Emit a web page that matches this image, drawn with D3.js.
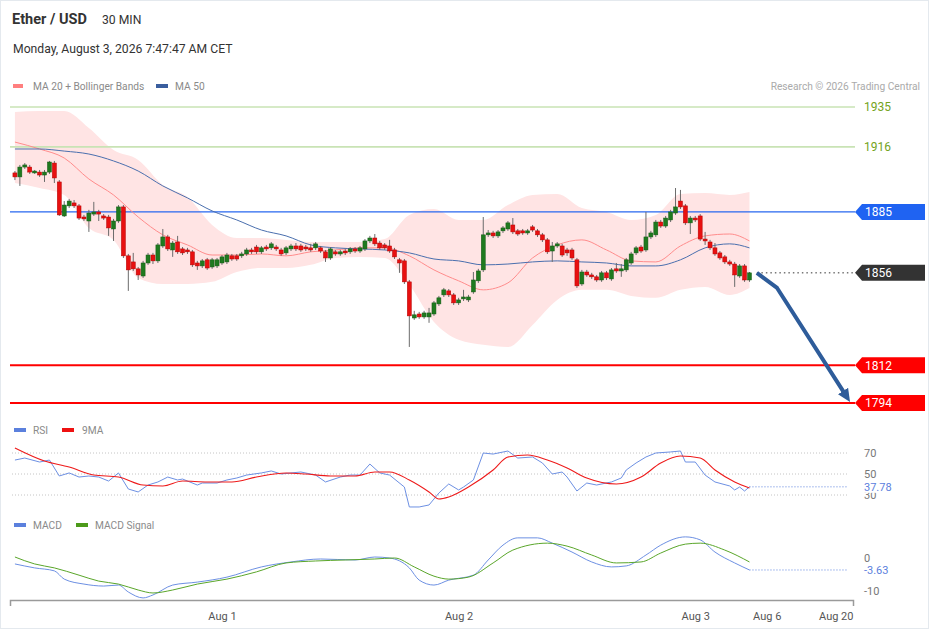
<!DOCTYPE html>
<html>
<head>
<meta charset="utf-8">
<script src="https://cdn.jsdelivr.net/npm/d3@7"></script>
<style>
  body { margin: 0; background: #fff; font-family: Roboto, "Liberation Sans", Arial, sans-serif; }
</style>
</head>
<body>
<svg id="chart" width="929" height="629" viewBox="0 0 929 629"></svg>
<script>
// ---- candles (30 min, Jul 31 03:00 -> Aug 3 05:30) ----
const opens = [
  1903.6,1901.7,1906.4,1906.4,1903.6,1904.0,1902.6,1904.0,1908.3,1899.3,
  1883.1,1887.9,1889.3,1887.9,1882.6,1880.7,1884.0,1885.0,1883.1,1882.6,
  1876.9,1880.7,1887.4,1864.1,1861.2,1857.9,1854.5,1860.7,1864.5,1861.7,
  1868.8,1873.1,1866.9,1870.7,1867.4,1866.9,1866.0,1860.7,1859.3,1862.2,
  1858.8,1859.3,1860.7,1861.2,1864.1,1864.1,1864.1,1865.0,1866.9,1868.3,
  1866.0,1868.3,1867.9,1868.3,1866.9,1865.5,1867.4,1868.8,1868.8,1868.3,
  1867.9,1867.9,1867.9,1866.0,1863.1,1866.0,1865.0,1866.4,1866.0,1867.4,
  1866.4,1867.4,1871.2,1872.6,1870.2,1869.3,1868.8,1866.9,1862.2,1861.7,
  1851.7,1834.5,1836.4,1835.0,1835.0,1836.4,1841.2,1845.5,1847.4,1845.5,
  1841.7,1843.6,1843.1,1846.9,1852.2,1857.4,1874.1,1875.0,1873.6,1876.0,
  1876.9,1878.8,1876.0,1876.0,1875.0,1877.9,1876.0,1874.1,1871.7,1866.4,
  1868.8,1868.8,1866.9,1866.9,1862.2,1850.7,1856.4,1855.0,1854.1,1852.6,
  1856.0,1853.1,1857.9,1856.9,1857.4,1860.7,1865.5,1868.3,1866.9,1873.1,
  1874.1,1880.2,1878.3,1881.2,1884.5,1890.2,1887.9,1879.8,1882.1,1883.1,
  1872.1,1870.7,1867.9,1865.5,1863.6,1861.2,1860.2,1854.5,1859.3,1852.6
];
const highs = [
  1904.5,1907.4,1908.3,1907.4,1905.0,1905.0,1905.0,1909.3,1909.3,1900.2,
  1890.2,1891.2,1890.7,1888.8,1883.6,1886.0,1889.8,1886.0,1884.0,1883.6,
  1881.7,1888.3,1888.3,1865.0,1865.5,1858.8,1861.7,1865.5,1865.5,1870.2,
  1876.9,1874.1,1871.2,1873.6,1868.3,1867.9,1866.9,1861.7,1862.6,1863.1,
  1863.1,1863.1,1864.5,1865.5,1865.0,1865.0,1866.0,1867.9,1867.9,1869.3,
  1868.8,1869.3,1870.7,1869.3,1867.9,1868.8,1869.8,1870.2,1869.8,1869.3,
  1869.8,1870.7,1868.8,1866.9,1868.3,1866.9,1866.9,1867.4,1868.3,1868.3,
  1868.8,1872.1,1873.6,1874.5,1871.2,1870.2,1871.7,1867.9,1863.1,1862.6,
  1852.6,1837.9,1837.4,1837.9,1839.3,1842.6,1845.0,1848.8,1848.3,1846.4,
  1844.1,1847.9,1845.5,1856.4,1857.9,1882.6,1876.4,1876.0,1876.4,1878.3,
  1880.7,1882.1,1876.9,1876.9,1876.9,1878.8,1876.9,1875.0,1872.6,1870.7,
  1870.7,1869.8,1867.9,1867.9,1863.1,1857.4,1857.4,1856.0,1855.0,1856.9,
  1856.9,1858.3,1860.7,1860.2,1863.1,1866.0,1868.8,1869.3,1885.0,1876.0,
  1881.2,1881.2,1883.1,1886.0,1896.4,1895.5,1888.8,1883.1,1883.1,1884.0,
  1875.5,1871.7,1870.2,1866.4,1864.5,1862.2,1861.2,1860.2,1860.2,1856.4
];
const lows = [
  1900.2,1897.4,1905.5,1903.1,1903.1,1901.7,1899.3,1903.1,1898.8,1883.1,
  1882.6,1886.9,1886.9,1881.2,1880.7,1875.5,1883.1,1880.7,1881.2,1873.6,
  1871.2,1879.8,1863.1,1847.4,1856.9,1852.6,1853.6,1859.8,1860.2,1860.7,
  1867.9,1866.4,1863.6,1865.0,1864.5,1865.0,1858.8,1857.4,1858.3,1857.4,
  1857.9,1858.3,1859.8,1860.2,1861.7,1861.7,1863.1,1864.1,1865.0,1865.0,
  1865.0,1866.4,1866.9,1866.4,1864.1,1864.5,1866.4,1866.4,1866.0,1866.4,
  1866.0,1866.9,1865.5,1861.2,1862.2,1864.1,1864.1,1864.5,1865.0,1865.5,
  1865.5,1866.4,1870.2,1868.8,1866.9,1866.9,1865.5,1862.6,1856.0,1850.7,
  1820.7,1833.6,1834.1,1834.1,1832.2,1835.5,1840.2,1844.5,1844.5,1840.7,
  1840.7,1842.6,1842.1,1846.0,1851.2,1856.4,1873.1,1872.6,1872.6,1875.0,
  1876.0,1874.5,1873.6,1874.1,1874.1,1875.5,1873.1,1870.7,1865.0,1861.2,
  1867.9,1863.6,1864.1,1862.2,1848.8,1849.8,1854.1,1853.1,1851.7,1851.7,
  1852.6,1852.2,1856.0,1854.1,1856.4,1859.8,1864.5,1865.5,1866.0,1872.1,
  1873.1,1877.4,1877.4,1880.2,1883.6,1886.4,1878.8,1874.5,1880.2,1871.2,
  1869.3,1866.9,1864.1,1862.2,1860.2,1859.3,1849.3,1853.6,1851.7,1851.7
];
const closes = [
  1901.7,1906.4,1907.4,1904.0,1904.5,1902.6,1904.0,1908.8,1901.2,1883.6,
  1888.3,1890.2,1887.9,1882.1,1881.7,1884.5,1885.0,1884.0,1882.1,1877.4,
  1880.7,1887.4,1864.1,1857.4,1857.9,1855.0,1860.7,1864.5,1861.7,1869.3,
  1873.1,1867.4,1870.2,1866.0,1865.5,1866.0,1859.8,1859.3,1861.7,1858.3,
  1862.2,1862.2,1863.6,1864.5,1862.6,1862.6,1865.0,1866.9,1866.0,1866.0,
  1867.9,1867.4,1869.8,1867.4,1865.0,1867.9,1868.8,1867.4,1866.9,1867.4,
  1866.9,1869.8,1866.4,1863.1,1867.4,1865.0,1866.0,1865.5,1867.4,1866.4,
  1867.9,1871.2,1872.6,1869.8,1867.9,1867.9,1866.4,1863.6,1860.7,1851.7,
  1835.5,1836.0,1835.0,1836.9,1836.9,1841.7,1844.1,1847.9,1845.5,1841.7,
  1843.1,1844.5,1844.5,1852.6,1856.9,1874.1,1875.0,1873.6,1875.5,1877.4,
  1879.8,1875.5,1874.5,1875.0,1876.0,1876.4,1874.1,1871.7,1866.0,1868.8,
  1869.8,1864.5,1865.5,1863.1,1849.8,1856.4,1855.0,1854.1,1852.6,1856.0,
  1853.6,1857.4,1856.9,1857.9,1862.2,1865.0,1867.9,1866.4,1873.1,1875.0,
  1880.2,1878.3,1882.1,1885.0,1887.4,1887.4,1879.8,1882.1,1881.2,1872.1,
  1871.2,1867.9,1865.0,1863.1,1861.2,1860.2,1855.0,1859.3,1852.6,1856.0
];

// ---- moving averages / bollinger bands (read every 5 candles) ----
const maIdx = [0,5,10,15,20,25,30,35,40,45,50,55,60,65,70,75,80,85,90,95,100,105,110,115,120,125,130,135,140,145,149];
const ma20 = [1918.3,1915.0,1910.7,1900.7,1893.1,1882.6,1874.1,1869.3,1864.5,1864.5,1865.0,1864.1,1866.0,1866.9,1867.9,1867.9,1864.1,1857.4,1852.2,1847.9,1851.2,1863.1,1869.3,1871.7,1866.9,1861.7,1861.2,1868.8,1873.6,1874.5,1871.2];
const ma50 = [1915.0,1915.0,1914.0,1912.6,1909.3,1904.5,1897.4,1891.7,1885.5,1881.2,1876.4,1873.6,1869.3,1867.9,1867.4,1866.9,1865.5,1862.6,1861.7,1859.8,1860.2,1861.2,1861.7,1861.2,1860.7,1859.3,1859.3,1862.2,1867.9,1869.8,1867.9];
const bbUpper = [1932.6,1933.1,1933.1,1925.0,1914.5,1909.8,1897.9,1892.1,1878.8,1872.6,1872.6,1871.7,1870.7,1870.7,1870.7,1872.1,1883.6,1886.4,1881.2,1881.2,1888.3,1893.1,1893.6,1886.9,1885.0,1881.2,1883.6,1893.6,1894.0,1893.1,1894.5];
const bbLower = [1898.8,1896.4,1893.1,1877.4,1871.7,1853.6,1850.7,1850.7,1851.7,1856.4,1858.3,1858.3,1859.8,1863.1,1863.6,1863.1,1850.3,1832.6,1824.1,1821.7,1820.7,1831.2,1843.1,1847.9,1847.9,1845.0,1844.1,1847.9,1849.3,1845.5,1848.8];

// ---- key levels ----
const levelPrices = [1935, 1916, 1885, 1856, 1812, 1794];
const levelKinds = ["res", "res", "pivot", "last", "sup", "sup"];

// ---- projected path ----
const projIdx = [150.5, 154.6, 169.4];
const projPrice = [1856, 1848.8, 1794.5];

// ---- RSI ----
const rsiIdx = [0,2,5,7,9,11,13,15,17,19,21,23,25,27,29,31,33,34,37,38,41,43,45,47,50,52,54,56,58,61,63,66,68,70,72,74,76,79,80,82,84,86,88,90,91,93,95,97,100,102,105,107,109,111,112,114,116,118,121,123,124,126,128,130,133,135,136,138,140,142,145,146,147,148,149];
const rsiVal = [63.3,65.2,61.4,63.3,48.1,51.0,47.1,48.1,47.1,43.3,51.0,35.7,32.9,39.5,42.4,47.1,44.3,45.2,39.5,41.4,41.4,44.3,46.2,49.0,51.0,52.9,50.0,51.0,51.9,49.0,42.4,47.1,49.0,49.0,59.5,51.0,49.0,37.6,18.6,18.6,20.5,31.9,40.5,34.8,37.6,44.3,70.0,69.0,71.9,65.2,66.2,60.5,50.0,51.9,47.1,33.8,41.4,39.5,42.4,46.2,53.8,60.5,66.2,70.0,71.0,71.9,61.4,61.4,49.0,42.4,38.6,34.8,37.6,33.8,37.78];
const rsiMaIdx = [0,6,11,16,21,26,30,34,39,44,49,55,59,64,69,73,76,80,84,86,88,92,97,100,104,108,112,116,122,127,131,135,139,142,146,149];
const rsiMaVal = [74.8,62.4,56.7,49.0,47.1,39.5,38.6,43.3,42.4,42.4,47.1,51.0,50.0,48.1,48.1,51.9,51.9,44.3,32.9,26.2,28.1,37.6,53.8,66.2,68.1,63.3,55.7,46.2,40.5,47.1,60.5,67.1,65.2,53.8,42.4,36.7];
const rsiTicks = [70, 50, 30];

// ---- MACD ----
const macdIdx = [0,4,8,10,14,18,21,23,26,28,32,37,43,50,56,62,69,73,76,80,82,85,88,93,96,99,102,106,109,113,117,121,124,128,131,136,139,142,146,149];
const macdVal = [-1.8,-3.0,-3.9,-6.4,-7.9,-8.5,-8.2,-10.3,-12.1,-11.2,-8.2,-7.3,-5.8,-2.7,-1.2,-0.3,-0.6,0.3,0.0,-3.0,-6.7,-8.2,-6.7,-5.2,-0.6,3.9,6.1,6.1,4.5,1.8,-1.2,-2.7,-2.4,0.9,3.9,6.4,5.5,1.8,-1.5,-3.63];
const signalIdx = [0,4,8,13,17,21,25,28,32,37,43,49,55,61,67,73,77,81,85,88,92,97,101,108,112,117,122,127,131,136,139,144,149];
const signalVal = [0.3,-1.8,-3.0,-5.2,-7.0,-7.9,-9.7,-10.6,-9.7,-7.9,-6.4,-4.2,-1.5,-0.9,-0.6,-0.3,0.0,-2.7,-5.5,-6.4,-5.8,-1.5,2.4,4.5,3.6,0.9,-1.5,-1.2,1.5,4.2,4.5,2.4,-1.2];
const macdTicks = [0, -10];

// ---- time axis ----
const xTickIdx = [42, 90, 138, 152.5, 166.5];
const xTickLabels = ["Aug 1", "Aug 2", "Aug 3", "Aug 6", "Aug 20"];

const svg = d3.select("#chart");
const font = 'Roboto, "Liberation Sans", Arial, sans-serif';

svg.append("rect")
    .attr("x", 0.5).attr("y", 0.5).attr("width", 928).attr("height", 628)
    .attr("fill", "#fff").attr("stroke", "#e4e9ee");

// scales
const x = d3.scaleLinear().domain([-1, 170]).range([10, 853]);
const y = d3.scaleLinear().domain([1794, 1935]).range([403, 107]);
const yRsi = d3.scaleLinear().domain([30, 70]).range([495, 453]);
const yMacd = d3.scaleLinear().domain([-10, 0]).range([591, 558]);

// header
svg.append("text").attr("x", 12).attr("y", 24)
    .attr("font-family", font).attr("font-size", 14.5).attr("font-weight", "bold")
    .attr("fill", "#333").text("Ether / USD");
svg.append("text").attr("x", 102).attr("y", 24)
    .attr("font-family", font).attr("font-size", 12.2).attr("fill", "#333").text("30 MIN");
svg.append("text").attr("x", 13).attr("y", 52.5)
    .attr("font-family", font).attr("font-size", 12.2).attr("fill", "#333")
    .text("Monday, August 3, 2026 7:47:47 AM CET");

// legends
function legend(items, yy) {
    items.forEach(it => {
        svg.append("rect").attr("x", it.x).attr("y", yy - 2).attr("width", it.w).attr("height", 4)
            .attr("fill", it.color);
        svg.append("text").attr("x", it.tx).attr("y", yy + 4)
            .attr("font-family", font).attr("font-size", 10.2).attr("fill", "#8a8a8a").text(it.label);
    });
}
legend([
    { x: 13, w: 10, tx: 33, color: "#ff7f7f", label: "MA 20 + Bollinger Bands" },
    { x: 156, w: 12, tx: 175, color: "#3a5e9e", label: "MA 50" }
], 86);
svg.append("text").attr("x", 920).attr("y", 90).attr("text-anchor", "end")
    .attr("font-family", font).attr("font-size", 10.2).attr("fill", "#aaa")
    .text("Research \u00a9 2026 Trading Central");

// bollinger band
const bandArea = d3.area()
    .x((d, i) => x(maIdx[i]))
    .y0((d, i) => y(bbLower[i]))
    .y1((d, i) => y(bbUpper[i]))
    .curve(d3.curveMonotoneX);
svg.append("path").datum(maIdx).attr("d", bandArea).attr("fill", "#ffe4e4");

// level lines
const levelColor = { res: "#c9e3b5", pivot: "#2767ef", last: "#333", sup: "#ff0000" };
levelPrices.forEach((p, i) => {
    const k = levelKinds[i];
    const line = svg.append("line")
        .attr("x1", k === "last" ? x(150.5) : 10).attr("x2", 855)
        .attr("y1", y(p)).attr("y2", y(p))
        .attr("stroke", levelColor[k])
        .attr("stroke-width", k === "res" ? 1.6 : k === "sup" ? 2 : 1.2);
    if (k === "last") line.attr("stroke-dasharray", "1.5,3").attr("stroke-width", 1);
});

// moving averages
function maLine(vals) {
    return d3.line().x((d, i) => x(maIdx[i])).y((d, i) => y(vals[i])).curve(d3.curveMonotoneX);
}
svg.append("path").datum(maIdx).attr("d", maLine(ma20))
    .attr("fill", "none").attr("stroke", "#ff8c8c").attr("stroke-width", 1);
svg.append("path").datum(maIdx).attr("d", maLine(ma50))
    .attr("fill", "none").attr("stroke", "#4a6fae").attr("stroke-width", 1);

// candles
const idx = d3.range(closes.length);
const candles = svg.append("g").selectAll("g").data(idx).enter().append("g");
candles.append("line")
    .attr("x1", i => x(i)).attr("x2", i => x(i))
    .attr("y1", i => y(highs[i])).attr("y2", i => y(lows[i]))
    .attr("stroke", "#6b6b6b").attr("stroke-width", 1);
candles.append("rect")
    .attr("x", i => x(i) - 2).attr("width", 4)
    .attr("y", i => y(Math.max(opens[i], closes[i])))
    .attr("height", i => Math.max(1.2, Math.abs(y(opens[i]) - y(closes[i]))))
    .attr("fill", i => closes[i] >= opens[i] ? "#1f7a1f" : "#e81010")
    .attr("stroke", i => closes[i] >= opens[i] ? "#145a14" : "#b30000")
    .attr("stroke-width", 0.5);

// projection arrow
const pts = projIdx.map((d, i) => [x(d), y(projPrice[i])]);
const a = pts[pts.length - 2], b = pts[pts.length - 1];
const len = Math.hypot(b[0] - a[0], b[1] - a[1]);
const pull = 9;
pts[pts.length - 1] = [b[0] - (b[0] - a[0]) / len * pull, b[1] - (b[1] - a[1]) / len * pull];
svg.append("defs").append("marker")
    .attr("id", "head").attr("viewBox", "0 -6 13 12")
    .attr("refX", 4).attr("refY", 0)
    .attr("markerWidth", 13).attr("markerHeight", 12)
    .attr("markerUnits", "userSpaceOnUse").attr("orient", "auto")
    .append("path").attr("d", "M0,-6L13,0L0,6Z").attr("fill", "#2e5c9a");
svg.append("path").datum(pts).attr("d", d3.line())
    .attr("fill", "none").attr("stroke", "#2e5c9a").attr("stroke-width", 4)
    .attr("stroke-linejoin", "round").attr("marker-end", "url(#head)");

// level labels / tags
const tagFill = { pivot: "#1f63f2", last: "#333333", sup: "#ff0000" };
levelPrices.forEach((p, i) => {
    const k = levelKinds[i];
    const yy = y(p);
    if (k === "res") {
        svg.append("text").attr("x", 864).attr("y", yy + 4)
            .attr("font-family", font).attr("font-size", 12).attr("fill", "#74a31c").text(p);
    } else {
        svg.append("path")
            .attr("d", `M855,${yy}L862,${yy - 8}H925V${yy + 8}H862Z`)
            .attr("fill", tagFill[k]);
        svg.append("text").attr("x", 865).attr("y", yy + 4.3)
            .attr("font-family", font).attr("font-size", 12).attr("fill", "#fff").text(p);
    }
});

// ---- RSI panel ----
legend([
    { x: 14, w: 12, tx: 33, color: "#5b80dd", label: "RSI" },
    { x: 62, w: 12, tx: 82, color: "#ee1111", label: "9MA" }
], 430);
rsiTicks.forEach(t => {
    svg.append("line").attr("x1", 12).attr("x2", 848)
        .attr("y1", yRsi(t)).attr("y2", yRsi(t))
        .attr("stroke", "#c4c4c4").attr("stroke-dasharray", "1,2");
    svg.append("text").attr("x", 864).attr("y", yRsi(t) + 4)
        .attr("font-family", font).attr("font-size", 11).attr("fill", "#777").text(t);
});
svg.append("path").datum(rsiIdx)
    .attr("d", d3.line().x((d, i) => x(d)).y((d, i) => yRsi(rsiVal[i])))
    .attr("fill", "none").attr("stroke", "#6d90e3").attr("stroke-width", 1);
svg.append("path").datum(rsiMaIdx)
    .attr("d", d3.line().x((d, i) => x(d)).y((d, i) => yRsi(rsiMaVal[i])).curve(d3.curveMonotoneX))
    .attr("fill", "none").attr("stroke", "#ee1a1a").attr("stroke-width", 1.1);
const lastRsi = rsiVal[rsiVal.length - 1];
svg.append("line").attr("x1", x(rsiIdx[rsiIdx.length - 1])).attr("x2", 848)
    .attr("y1", yRsi(lastRsi)).attr("y2", yRsi(lastRsi))
    .attr("stroke", "#5b80dd").attr("stroke-dasharray", "1,2");
svg.append("rect").attr("x", 860).attr("y", yRsi(lastRsi) - 7).attr("width", 40).attr("height", 13)
    .attr("fill", "#fff");
svg.append("text").attr("x", 864).attr("y", yRsi(lastRsi) + 4)
    .attr("font-family", font).attr("font-size", 11).attr("fill", "#5b80dd").text(lastRsi.toFixed(2));

// ---- MACD panel ----
legend([
    { x: 14, w: 12, tx: 33, color: "#5b80dd", label: "MACD" },
    { x: 76, w: 12, tx: 95, color: "#4c9a1a", label: "MACD Signal" }
], 525);
macdTicks.forEach(t => {
    svg.append("text").attr("x", 864).attr("y", yMacd(t) + 4)
        .attr("font-family", font).attr("font-size", 11).attr("fill", "#777").text(t);
});
svg.append("path").datum(macdIdx)
    .attr("d", d3.line().x((d, i) => x(d)).y((d, i) => yMacd(macdVal[i])).curve(d3.curveMonotoneX))
    .attr("fill", "none").attr("stroke", "#6d90e3").attr("stroke-width", 1);
svg.append("path").datum(signalIdx)
    .attr("d", d3.line().x((d, i) => x(d)).y((d, i) => yMacd(signalVal[i])).curve(d3.curveMonotoneX))
    .attr("fill", "none").attr("stroke", "#5aa62a").attr("stroke-width", 1);
const lastMacd = macdVal[macdVal.length - 1];
svg.append("line").attr("x1", x(macdIdx[macdIdx.length - 1])).attr("x2", 848)
    .attr("y1", yMacd(lastMacd)).attr("y2", yMacd(lastMacd))
    .attr("stroke", "#5b80dd").attr("stroke-dasharray", "1,2");
svg.append("text").attr("x", 864).attr("y", yMacd(lastMacd) + 4)
    .attr("font-family", font).attr("font-size", 11).attr("fill", "#5b80dd").text(lastMacd.toFixed(2));

// ---- time axis ----
const xAxis = svg.append("g").attr("transform", "translate(0,600)")
    .call(d3.axisBottom(x)
        .tickValues(xTickIdx)
        .tickFormat((d, i) => xTickLabels[i])
        .tickSizeInner(0).tickSizeOuter(6).tickPadding(12));
xAxis.select(".domain").attr("stroke", "#9a9a9a").attr("stroke-width", 1.5);
xAxis.selectAll("text").attr("font-family", font).attr("font-size", 11).attr("fill", "#555");
</script>
</body>
</html>
